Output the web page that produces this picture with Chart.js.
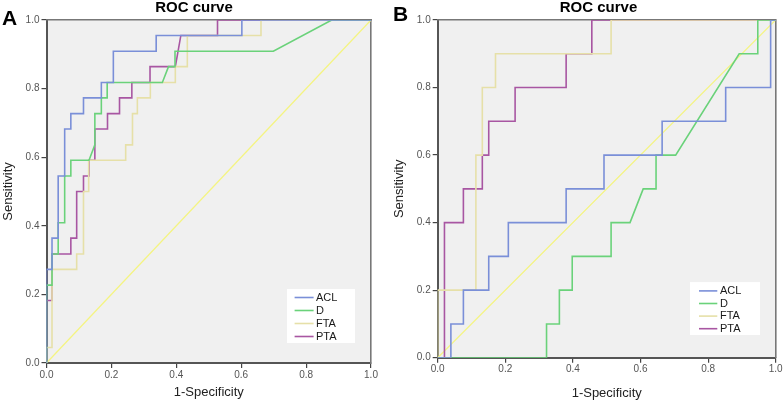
<!DOCTYPE html>
<html>
<head>
<meta charset="utf-8">
<script src="https://cdn.jsdelivr.net/npm/chart.js@4/dist/chart.umd.min.js"></script>
<style>
html, body { margin:0; padding:0; background:#fff; overflow:hidden; width:784px; height:404px; }
#wa { position:absolute; left:0; top:0; width:388px; height:404px; }
#wb { position:absolute; left:392px; top:0; width:413px; height:404px; }
canvas { display:block; }
</style>
</head>
<body>
<div id="wa"><canvas id="ca" width="388" height="404"></canvas></div>
<div id="wb"><canvas id="cb" width="413" height="404"></canvas></div>
<script>
// ---------- data ----------
const seriesNames = ['ACL', 'D', 'FTA', 'PTA'];
const tickValues = [0, 0.2, 0.4, 0.6, 0.8, 1.0];
const panelTitle = 'ROC curve';
const xAxisTitle = '1-Specificity';
const yAxisTitle = 'Sensitivity';
const diagX = [0, 1];
const diagY = [0, 1];

// Panel A  (x = 1-Specificity, y = Sensitivity)
const aAclX = [0, 0, 0.017, 0.017, 0.036, 0.036, 0.056, 0.056, 0.075, 0.075, 0.114, 0.114, 0.169, 0.169, 0.206, 0.206, 0.338, 0.338, 0.602, 0.602, 1];
const aAclY = [0, 0.273, 0.273, 0.364, 0.364, 0.545, 0.545, 0.682, 0.682, 0.727, 0.727, 0.773, 0.773, 0.818, 0.818, 0.909, 0.909, 0.955, 0.955, 1, 1];
const aDX = [0, 0, 0.017, 0.017, 0.036, 0.036, 0.056, 0.056, 0.075, 0.075, 0.131, 0.149, 0.149, 0.169, 0.169, 0.187, 0.187, 0.357, 0.376, 0.396, 0.396, 0.699, 0.879, 1];
const aDY = [0, 0.227, 0.227, 0.318, 0.318, 0.409, 0.409, 0.545, 0.545, 0.591, 0.591, 0.636, 0.727, 0.727, 0.773, 0.773, 0.818, 0.818, 0.864, 0.864, 0.909, 0.909, 1, 1];
const aFtaX = [0, 0, 0.017, 0.017, 0.093, 0.093, 0.114, 0.114, 0.130, 0.130, 0.244, 0.244, 0.265, 0.265, 0.280, 0.280, 0.320, 0.320, 0.397, 0.397, 0.434, 0.434, 0.661, 0.661, 1];
const aFtaY = [0, 0.045, 0.045, 0.273, 0.273, 0.318, 0.318, 0.500, 0.500, 0.591, 0.591, 0.636, 0.636, 0.727, 0.727, 0.773, 0.773, 0.818, 0.818, 0.864, 0.864, 0.955, 0.955, 1, 1];
const aPtaX = [0, 0, 0.017, 0.017, 0.075, 0.075, 0.093, 0.093, 0.114, 0.114, 0.131, 0.131, 0.149, 0.149, 0.188, 0.188, 0.225, 0.225, 0.263, 0.263, 0.319, 0.319, 0.397, 0.414, 0.527, 0.527, 1];
const aPtaY = [0, 0.182, 0.182, 0.318, 0.318, 0.364, 0.364, 0.500, 0.500, 0.545, 0.545, 0.591, 0.591, 0.682, 0.682, 0.727, 0.727, 0.773, 0.773, 0.818, 0.818, 0.864, 0.864, 0.955, 0.955, 1, 1];

// Panel B
const bAclX = [0, 0.039, 0.039, 0.076, 0.076, 0.151, 0.151, 0.209, 0.209, 0.380, 0.380, 0.492, 0.492, 0.664, 0.664, 0.852, 0.852, 0.985, 0.985, 1];
const bAclY = [0, 0, 0.1, 0.1, 0.2, 0.2, 0.3, 0.3, 0.4, 0.4, 0.5, 0.5, 0.6, 0.6, 0.7, 0.7, 0.8, 0.8, 1, 1];
const bDX = [0, 0.322, 0.322, 0.360, 0.360, 0.398, 0.398, 0.513, 0.513, 0.569, 0.608, 0.646, 0.646, 0.704, 0.892, 0.947, 0.947, 1];
const bDY = [0, 0, 0.1, 0.1, 0.2, 0.2, 0.3, 0.3, 0.4, 0.4, 0.5, 0.5, 0.6, 0.6, 0.9, 0.9, 1, 1];
const bFtaX = [0, 0, 0.113, 0.113, 0.132, 0.132, 0.171, 0.171, 0.513, 0.513, 1];
const bFtaY = [0, 0.2, 0.2, 0.6, 0.6, 0.8, 0.8, 0.9, 0.9, 1, 1];
const bPtaX = [0, 0.020, 0.020, 0.076, 0.076, 0.132, 0.132, 0.151, 0.151, 0.229, 0.229, 0.380, 0.380, 0.456, 0.456, 1];
const bPtaY = [0, 0, 0.4, 0.4, 0.5, 0.5, 0.6, 0.6, 0.7, 0.7, 0.8, 0.8, 0.9, 0.9, 1, 1];

// ---------- styles ----------
const seriesColors = ['#7a8fd8', '#6ad27a', '#e6e0a8', '#a856a2'];
const diagColor = '#f4f482';
const FONT = '"Liberation Sans", Arial, Helvetica, sans-serif';
Chart.defaults.font.family = FONT;

function pts(xs, ys) { return xs.map((x, i) => ({ x: x, y: ys[i] })); }

function makeDatasets(curves) {
  const ds = curves.map((c, i) => ({
    label: seriesNames[i],
    data: pts(c[0], c[1]),
    borderColor: seriesColors[i],
    backgroundColor: seriesColors[i],
    borderWidth: 1.6,
    pointRadius: 0,
    tension: 0,
    fill: false
  }));
  ds.push({
    label: 'Reference',
    data: pts(diagX, diagY),
    borderColor: diagColor,
    borderWidth: 1.3,
    pointRadius: 0,
    tension: 0,
    fill: false
  });
  return ds;
}

const decor = {
  id: 'decor',
  beforeDraw(chart, args, o) {
    const { ctx, chartArea: a } = chart;
    ctx.save();
    ctx.fillStyle = '#f0f0f0';
    ctx.fillRect(a.left, a.top, a.right - a.left, a.bottom - a.top);
    ctx.restore();
  },
  afterDraw(chart, args, o) {
    const { ctx, chartArea: a } = chart;
    ctx.save();
    // panel letter
    ctx.font = 'bold 21px ' + FONT;
    ctx.fillStyle = '#000';
    ctx.textBaseline = 'alphabetic';
    ctx.textAlign = 'left';
    ctx.fillText(o.letter, o.letterX, o.letterY);
    // legend box inside plot area
    const items = chart.data.datasets.filter(d => seriesNames.includes(d.label));
    const h = o.rowH * items.length + o.padTop + o.padBot;
    const right = a.right - o.offR, bottom = a.bottom - o.offB;
    const left = right - o.boxW, top = bottom - h;
    ctx.fillStyle = '#ffffff';
    ctx.fillRect(left, top, o.boxW, h);
    ctx.font = '11px ' + FONT;
    ctx.textBaseline = 'middle';
    items.forEach((d, i) => {
      const y = top + o.padTop + o.rowH * (i + 0.5);
      ctx.strokeStyle = d.borderColor;
      ctx.lineWidth = 1.6;
      ctx.beginPath();
      ctx.moveTo(left + o.lineX0, y);
      ctx.lineTo(left + o.lineX1, y);
      ctx.stroke();
      ctx.fillStyle = '#1a1a1a';
      ctx.fillText(d.label, left + o.textX, y);
    });
    ctx.restore();
  }
};

function makeChart(id, curves, L) {
  const tickFont = { family: FONT, size: 10 };
  const titleFont = { family: FONT, size: 13, lineHeight: 1.2 };
  const setTicks = s => { s.ticks = tickValues.map(v => ({ value: v })); };
  return new Chart(document.getElementById(id), {
    type: 'line',
    data: { datasets: makeDatasets(curves) },
    plugins: [decor],
    options: {
      responsive: false,
      animation: false,
      events: [],
      layout: { padding: 0 },
      plugins: {
        legend: { display: false },
        tooltip: { enabled: false },
        title: {
          display: true, text: panelTitle, color: '#000',
          font: { family: FONT, size: 15, weight: 'bold', lineHeight: 1 },
          padding: { top: L.titleTop, bottom: L.titleBot }
        },
        decor: L.decor
      },
      scales: {
        x: {
          type: 'linear', position: 'bottom', min: 0, max: 1,
          afterBuildTicks: setTicks,
          afterFit: s => { s.height = L.xH; },
          ticks: { color: '#555', font: tickFont, padding: L.xTickPad, maxRotation: 0, autoSkip: false,
                   callback: v => Number(v).toFixed(1) },
          grid: { drawOnChartArea: false, drawTicks: true, tickLength: 5, color: '#444', lineWidth: 1.2 },
          border: { display: true, color: '#555', width: 2 },
          title: { display: true, text: xAxisTitle, color: '#222', font: titleFont, padding: { top: 0, bottom: L.xTitlePad } }
        },
        y: {
          type: 'linear', position: 'left', min: 0, max: 1,
          afterBuildTicks: setTicks,
          afterFit: s => { s.width = L.yW; },
          ticks: { color: '#555', font: tickFont, padding: 2, autoSkip: false,
                   callback: v => Number(v).toFixed(1) },
          grid: { drawOnChartArea: false, drawTicks: true, tickLength: 5, color: '#444', lineWidth: 1.2 },
          border: { display: true, color: '#555', width: 2 },
          title: { display: true, text: yAxisTitle, color: '#222', font: titleFont, padding: { top: L.yTitlePad, bottom: 0 } }
        },
        x2: {
          type: 'linear', position: 'top', min: 0, max: 1,
          ticks: { display: false },
          grid: { drawOnChartArea: false, drawTicks: false, color: 'rgba(0,0,0,0)' },
          border: { display: true, color: '#777', width: 1.6 },
          afterFit: s => { s.height = 0; }
        },
        y2: {
          type: 'linear', position: 'right', min: 0, max: 1,
          ticks: { display: false },
          grid: { drawOnChartArea: false, drawTicks: false, color: 'rgba(0,0,0,0)' },
          border: { display: true, color: '#777', width: 1.6 },
          afterFit: s => { s.width = L.y2W; }
        }
      }
    }
  });
}

makeChart('ca',
  [[aAclX, aAclY], [aDX, aDY], [aFtaX, aFtaY], [aPtaX, aPtaY]],
  { titleTop: 0, titleBot: 5, xH: 41, yW: 46.5, y2W: 17, xTickPad: 1, xTitlePad: 4, yTitlePad: 1,
    decor: { letter: 'A', letterX: 2, letterY: 25, rowH: 13, padTop: 2, padBot: 0, offR: 16, offB: 20,
             boxW: 68, lineX0: 7.6, lineX1: 26.6, textX: 29 } });

makeChart('cb',
  [[bAclX, bAclY], [bDX, bDY], [bFtaX, bFtaY], [bPtaX, bPtaY]],
  { titleTop: 0, titleBot: 5, xH: 46.3, yW: 45.7, y2W: 29.3, xTickPad: 1, xTitlePad: 3, yTitlePad: 0,
    decor: { letter: 'B', letterX: 1, letterY: 21, rowH: 12.6, padTop: 2.5, padBot: 0, offR: 15.7, offB: 22.7,
             boxW: 70, lineX0: 9, lineX1: 27.3, textX: 30 } });
</script>
</body>
</html>
